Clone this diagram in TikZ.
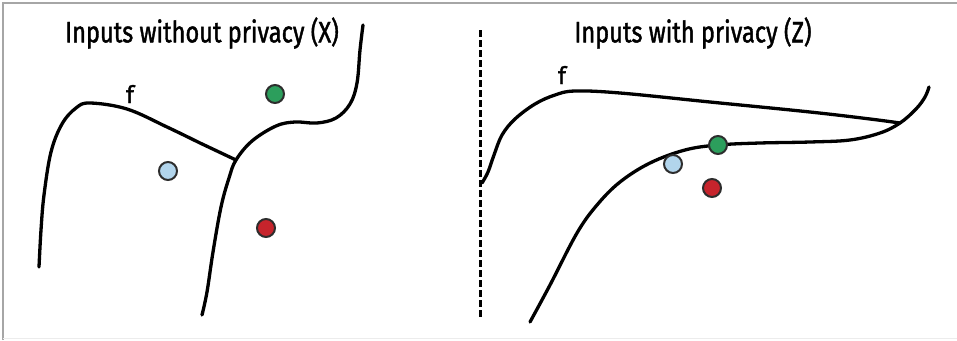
\documentclass[tikz,border=0pt]{standalone}
\usepackage{fontspec}
\setmainfont{Fira Sans}
\newfontfamily\ptfont[FakeBold=1.6]{Fira Sans}
\usepackage{tikz}
\usetikzlibrary{positioning}
\definecolor{ptgreen}{RGB}{44,158,92}
\definecolor{ptblue}{RGB}{178,213,236}
\definecolor{ptred}{RGB}{198,36,44}
\definecolor{ptrim}{RGB}{45,45,45}
\tikzset{
  curve/.style={line width=3.3pt,line cap=round,line join=round},
  pt/.style={circle,draw=ptrim,line width=2pt,minimum size=18pt,inner sep=0pt},
  title/.style={font=\ptfont\fontsize{29.5}{34}\selectfont,inner sep=0pt,xscale=0.8,transform shape},
  flabel/.style={font=\ptfont\fontsize{24}{28}\selectfont,inner sep=0pt}
}

\begin{document}
\begin{tikzpicture}[x=1pt,y=-1pt]
  \useasboundingbox (0,0) rectangle (957,340);
  %% ---- frame ----
  \draw[gray!70,line width=1.5pt] (3,340) -- (3,3) -- (957,3);
  \draw[gray!15,line width=1pt] (3,338.5) -- (957,338.5);

  %% ---- left panel: inputs without privacy ----
  \begin{scope}
    \node[title] (titleX) at (202,33) {Inputs without privacy (X)};
    \node[flabel] (fX) at (130,94) {f};
    \coordinate (jX) at (236,160);
    %% first branch of f, ending at the junction
    \draw[curve] plot[smooth,tension=0.6] coordinates {
      (39,267) (41,230) (44,195) (51,152) (62,124) (76,108) (90,103)
      (127,109) (167,127) (200,143)} -- (jX);
    %% second branch of f, through the junction
    \draw[curve] plot[smooth,tension=0.6] coordinates {
      (202,315) (207,292) (213,252) (221,207) (229,178) (jX)
      (252,141) (276,126) (295,122) (317,123) (336,118) (350,104)
      (357,83) (360,50) (363,25)};
    %% data points
    \node[pt,fill=ptgreen] (gX) at (275,94) {};
    \node[pt,fill=ptblue]  (bX) at (168,171) {};
    \node[pt,fill=ptred]   (rX) at (266,228) {};
  \end{scope}

  %% ---- divider ----
  \coordinate (divtop) at (480,30);
  \coordinate (divbot) at (480,318);
  \draw[line width=3pt,dash pattern=on 7pt off 3pt] (divtop) -- (divbot);

  %% ---- right panel: inputs with privacy ----
  \begin{scope}
    \node[title] (titleZ) at (693,33) {Inputs with privacy (Z)};
    \node[flabel] (fZ) at (562,75) {f};
    \coordinate (jZ) at (900,123);
    %% upper branch of f, ending on the lower one
    \draw[curve] plot[smooth,tension=0.6] coordinates {
      (482,183) (488,172) (494,155) (502,135) (515,119) (535,104)
      (555,95) (575,91) (620,93) (710,102) (810,112) (870,119) (jZ)};
    %% lower branch of f
    \draw[curve] plot[smooth,tension=0.6] coordinates {
      (530,322) (550,285) (577,233) (597,205) (620,182) (650,163)
      (685,150) (718,145) (760,143) (810,142) (850,140) (880,133)
      (jZ) (916,109) (925,97) (929,87)};
    %% data points
    \node[pt,fill=ptgreen] (gZ) at (718,145) {};
    \node[pt,fill=ptblue]  (bZ) at (673,164) {};
    \node[pt,fill=ptred]   (rZ) at (712,188) {};
  \end{scope}
\end{tikzpicture}
\end{document}
